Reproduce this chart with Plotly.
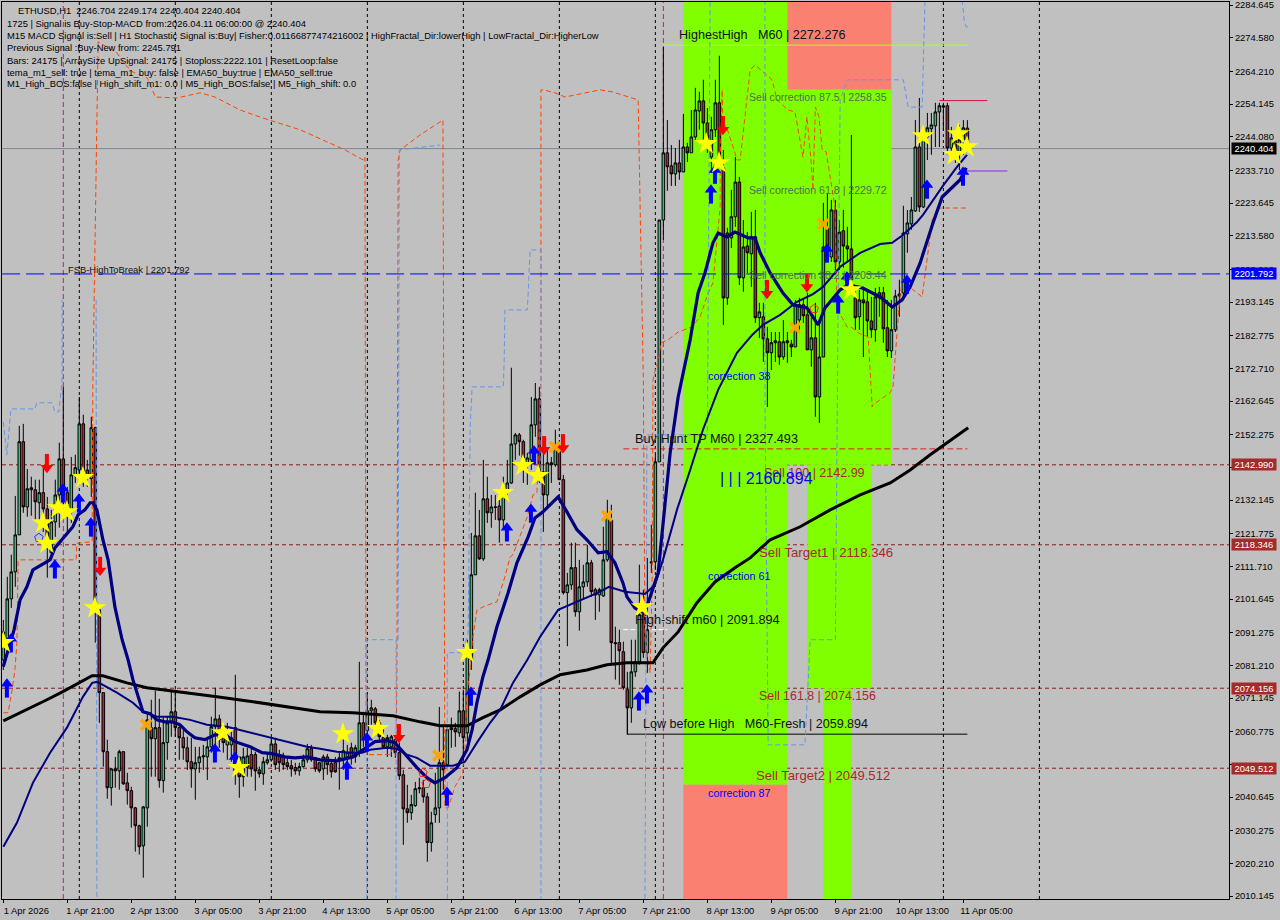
import plotly.graph_objects as go

# ---- OHLC, hourly bars (bar number = hours since first bar) ----
ohlc = """2082.9 2095.2 2079.8 2091.5
2088.2 2108.5 2086.9 2101.7
2101.7 2115.3 2098.9 2110.0
2110.0 2133.4 2105.4 2121.4
2121.4 2155.0 2121.4 2150.1
2150.1 2155.6 2128.2 2130.0
2130.0 2141.7 2127.0 2135.6
2135.9 2139.3 2127.3 2135.3
2135.3 2138.4 2126.0 2131.6
2131.3 2138.4 2125.1 2134.4
2134.4 2142.4 2122.3 2129.4
2129.4 2133.1 2108.2 2119.0
2115.9 2129.1 2115.3 2125.4
2125.4 2138.4 2120.8 2133.7
2133.7 2149.8 2123.6 2144.8
2144.8 2167.0 2128.2 2133.7
2134.4 2136.2 2122.0 2129.1
2128.5 2145.4 2125.1 2139.9
2139.6 2146.1 2137.4 2142.1
2141.4 2163.9 2138.4 2155.6
2155.6 2158.4 2136.2 2139.9
2141.4 2144.5 2136.2 2139.3
2138.7 2157.8 2133.1 2154.4
2154.4 2154.7 2088.2 2098.3
2098.3 2098.3 2063.5 2072.8
2072.8 2072.8 2050.0 2054.6
2054.6 2058.3 2040.1 2043.5
2043.5 2049.6 2038.0 2049.3
2049.3 2053.0 2043.5 2048.7
2048.7 2055.2 2042.9 2054.6
2054.6 2054.6 2044.4 2044.7
2045.0 2048.1 2038.3 2042.6
2042.6 2043.8 2031.2 2037.3
2037.3 2037.6 2023.8 2031.8
2031.8 2032.1 2022.9 2025.3
2025.6 2037.9 2015.8 2037.6
2037.3 2066.9 2031.5 2064.4
2062.0 2070.6 2046.9 2058.6
2058.6 2073.4 2046.9 2062.0
2062.0 2070.9 2043.5 2045.7
2045.7 2065.1 2042.0 2057.4
2057.4 2065.4 2052.1 2063.5
2063.5 2073.1 2059.2 2066.9
2066.9 2073.7 2059.2 2062.0
2062.0 2063.5 2052.1 2058.9
2058.9 2061.4 2052.1 2055.8
2055.8 2059.2 2049.0 2051.5
2051.5 2058.9 2043.5 2049.3
2049.3 2056.1 2039.8 2051.2
2051.2 2056.1 2048.1 2053.0
2053.0 2056.7 2049.0 2053.3
2053.0 2059.2 2045.9 2056.1
2056.1 2065.4 2054.3 2062.3
2062.3 2074.3 2056.1 2064.7
2064.7 2066.0 2055.8 2058.3
2059.5 2062.3 2054.3 2057.4
2056.7 2063.5 2052.1 2059.5
2056.7 2060.7 2051.5 2058.9
2062.0 2078.3 2044.4 2053.0
2053.0 2053.0 2040.4 2046.9
2046.9 2055.8 2043.8 2053.0
2049.8 2055.8 2046.9 2053.3
2053.7 2055.8 2046.9 2049.3
2053.7 2054.6 2042.6 2048.7
2049.0 2050.0 2046.6 2047.8
2047.8 2053.0 2044.4 2051.5
2051.2 2054.3 2050.6 2052.1
2052.1 2058.9 2051.5 2057.0
2057.0 2058.9 2049.0 2050.6
2053.7 2055.2 2048.4 2051.2
2053.0 2054.3 2049.0 2050.6
2051.2 2052.7 2049.0 2050.0
2050.3 2052.1 2046.9 2049.3
2049.7 2051.2 2047.5 2048.7
2048.7 2051.2 2047.2 2050.0
2050.0 2053.7 2049.7 2052.1
2052.1 2057.0 2051.2 2055.5
2055.5 2056.7 2051.5 2052.1
2052.7 2053.0 2048.4 2049.3
2051.2 2051.2 2048.1 2048.7
2049.3 2053.7 2045.9 2053.0
2053.0 2053.9 2047.5 2050.6
2050.9 2052.1 2046.6 2048.4
2051.2 2053.0 2048.1 2048.4
2052.7 2054.3 2042.9 2052.1
2052.1 2058.3 2049.0 2054.9
2053.0 2056.7 2050.0 2054.3
2055.8 2057.4 2050.6 2052.7
2053.0 2056.7 2051.2 2055.8
2054.3 2082.3 2053.0 2063.5
2063.5 2066.9 2056.1 2058.3
2061.1 2072.8 2057.4 2067.2
2067.2 2070.6 2062.9 2068.1
2067.8 2068.4 2059.8 2063.5
2063.5 2064.4 2057.4 2059.2
2058.9 2062.3 2055.8 2056.1
2056.1 2059.8 2053.0 2058.9
2056.1 2059.8 2053.0 2059.2
2058.3 2059.2 2052.7 2054.3
2054.3 2057.4 2045.9 2047.2
2047.5 2049.0 2025.9 2037.0
2037.0 2044.4 2032.7 2035.8
2035.8 2041.3 2033.6 2038.3
2038.0 2045.3 2037.6 2043.2
2043.5 2046.6 2041.8 2043.2
2043.5 2045.9 2038.9 2040.7
2040.7 2041.9 2020.7 2026.6
2026.6 2036.1 2023.8 2032.7
2035.2 2048.1 2032.7 2037.3
2037.3 2068.4 2032.7 2051.2
2051.2 2062.9 2042.9 2049.0
2050.6 2062.3 2049.7 2061.4
2061.4 2065.1 2055.8 2062.0
2061.7 2063.5 2056.1 2060.7
2060.4 2073.1 2059.2 2067.2
2067.2 2073.7 2052.1 2058.9
2060.4 2089.1 2057.7 2084.5
2082.9 2122.0 2079.8 2109.1
2109.1 2134.4 2109.1 2121.1
2121.1 2129.1 2113.7 2114.0
2114.0 2144.5 2113.4 2132.5
2132.5 2139.3 2125.1 2128.2
2128.2 2133.7 2123.6 2130.0
2130.0 2133.7 2126.0 2129.9
2130.3 2132.2 2119.0 2126.0
2126.0 2139.3 2123.0 2134.7
2134.7 2144.5 2133.7 2137.4
2137.4 2172.9 2137.1 2149.4
2149.4 2152.8 2144.5 2152.2
2152.2 2152.8 2145.8 2150.1
2150.1 2150.7 2137.4 2145.1
2143.6 2146.7 2136.8 2145.1
2144.5 2163.9 2141.4 2155.3
2155.3 2168.2 2151.6 2163.3
2163.3 2167.0 2137.4 2139.9
2140.8 2147.6 2122.3 2133.7
2133.7 2147.6 2130.0 2143.6
2143.6 2145.4 2137.4 2143.0
2143.0 2153.8 2142.4 2148.5
2148.5 2150.1 2138.4 2138.4
2138.4 2139.9 2103.0 2103.6
2103.6 2109.7 2087.1 2106.0
2106.0 2119.0 2104.5 2111.3
2111.3 2119.0 2096.2 2097.7
2097.7 2113.7 2091.9 2105.4
2105.4 2112.2 2101.4 2106.9
2106.9 2118.3 2105.4 2112.8
2112.8 2113.7 2102.3 2103.9
2104.5 2105.1 2095.2 2102.9
2102.9 2105.1 2097.7 2104.5
2102.6 2123.9 2102.3 2113.7
2113.7 2132.2 2113.1 2127.0
2126.0 2130.7 2081.4 2088.2
2088.2 2093.1 2076.8 2087.9
2088.2 2092.2 2075.2 2085.7
2085.4 2088.5 2073.7 2074.3
2073.7 2079.2 2059.8 2068.1
2068.1 2089.1 2063.5 2079.2
2079.2 2089.1 2077.7 2082.3
2082.3 2112.2 2081.4 2096.8
2096.8 2104.5 2083.5 2085.1
2085.1 2114.3 2078.9 2092.2
2113.1 2124.5 2109.7 2112.8
2113.1 2146.1 2110.6 2143.9
2143.9 2218.4 2143.9 2218.4
2218.4 2271.7 2212.3 2239.1
2239.1 2249.2 2227.4 2234.8
2235.1 2241.5 2228.9 2232.6
2232.6 2240.6 2228.9 2236.0
2236.0 2243.1 2230.8 2233.2
2233.2 2251.1 2233.2 2240.9
2240.9 2242.2 2236.3 2239.1
2239.1 2252.3 2239.1 2244.0
2244.0 2259.1 2243.1 2252.3
2252.0 2257.9 2246.2 2255.1
2255.1 2261.6 2243.1 2248.3
2248.3 2252.9 2239.1 2243.1
2237.8 2250.2 2232.9 2246.2
2246.2 2261.6 2244.0 2254.5
2254.5 2269.0 2234.5 2236.0
2234.5 2240.0 2186.1 2194.4
2194.4 2216.0 2192.3 2214.4
2212.9 2227.7 2209.8 2219.4
2219.4 2237.8 2216.3 2230.1
2230.1 2231.7 2198.4 2200.6
2200.6 2218.4 2196.3 2210.1
2210.4 2214.7 2202.1 2208.3
2208.0 2220.9 2197.8 2213.2
2213.2 2221.5 2186.7 2188.3
2188.3 2192.9 2182.1 2190.1
2188.6 2192.9 2174.7 2181.8
2181.8 2185.5 2160.8 2177.5
2177.5 2183.9 2172.2 2180.6
2180.6 2183.9 2174.7 2181.2
2180.9 2183.9 2173.8 2176.2
2176.2 2187.6 2175.3 2180.9
2181.2 2183.9 2174.4 2180.6
2180.2 2181.5 2176.2 2179.3
2179.3 2193.8 2179.3 2192.3
2187.6 2194.4 2184.6 2192.3
2192.3 2194.4 2186.7 2188.9
2189.2 2196.0 2178.4 2178.4
2178.4 2190.1 2173.2 2182.1
2182.1 2192.9 2157.8 2163.9
2163.9 2186.7 2155.9 2176.2
2176.2 2223.7 2176.2 2210.1
2216.0 2226.4 2205.5 2210.1
2207.0 2224.6 2205.5 2221.5
2221.5 2224.6 2203.0 2205.5
2205.5 2218.4 2203.0 2214.7
2215.1 2221.5 2203.7 2210.4
2210.4 2216.3 2205.2 2209.5
2209.5 2244.6 2198.4 2200.0
2194.4 2196.9 2184.6 2188.3
2188.6 2196.9 2184.6 2193.8
2193.8 2197.8 2176.2 2192.9
2193.2 2196.9 2182.4 2187.3
2187.3 2194.7 2182.1 2184.6
2184.6 2197.5 2180.9 2194.7
2196.0 2197.8 2188.6 2194.4
2196.0 2197.8 2180.6 2184.9
2185.2 2193.8 2176.2 2178.1
2178.1 2193.8 2175.9 2184.6
2184.6 2196.9 2183.9 2195.0
2195.0 2200.0 2188.6 2195.6
2195.9 2222.8 2194.7 2214.4
2214.1 2221.5 2208.3 2217.5
2217.2 2225.5 2215.4 2221.5
2221.2 2249.2 2220.9 2240.9
2240.9 2256.0 2220.9 2222.4
2222.4 2246.2 2222.1 2244.0
2244.0 2251.4 2236.9 2246.8
2246.5 2251.4 2238.5 2247.7
2247.4 2254.5 2240.9 2251.7
2251.7 2254.5 2240.9 2253.6
2253.6 2254.5 2246.2 2253.2
2253.6 2254.5 2238.5 2240.6
2240.6 2247.1 2236.9 2243.7
2242.8 2244.6 2236.0 2239.4
2238.5 2247.7 2233.8 2243.1
2243.1 2249.2 2238.5 2246.8
2246.704 2249.174 2240.404 2240.404"""
rows = [list(map(float, r.split())) for r in ohlc.splitlines()]
open_ = [r[0] for r in rows]
high = [r[1] for r in rows]
low = [r[2] for r in rows]
close = [r[3] for r in rows]
bars = list(range(len(rows)))

# ---- moving averages ----
fast_x = [0,1.2,2.7,4.2,5.9,7.4,10.2,11.7,12.9,14.2,15.9,17.4,18.7,20.4,21.7,22.4,23.4,24.9,26.2,27.9,29.7,31.2,32.4,33.4,34.9,36.7,38.4,40.4,42.2,44.2,45.9,47.9,50.4,52.9,55.4,57.9,61.7,64.7,67.2,70.4,72.9,75.9,79.2,83.4,87.4,89.9,92.9,95.9,97.9,99.9,103.4,105.9,107.9,110.4,113.4,115.9,117.2,118.4,119.9,121.2,123.4,126.2,128.4,131.2,132.9,134.9,138.7,140.9,143.4,145.9,148.7,150.9,152.9,154.9,155.9,157.9,159.7,161.2,163.7,164.2,166.7,168.7,171.7,173.7,175.4,177.4,178.7,180.9,182.9,186.2,187.9,189.2,191.7,194.9,197.4,200.9,203.7,205.4,209.2,211.2,214.7,219.2,222.2,224.7,226.7,229.2,232.4,234.7,239.2,240.7]
fast_y = [2080.8,2086.0,2092.2,2101.4,2105.4,2110.6,2112.8,2113.7,2117.4,2119.3,2122.0,2123.9,2127.6,2129.1,2131.3,2131.3,2129.1,2119.9,2113.7,2099.2,2089.1,2082.9,2076.8,2073.1,2066.9,2066.3,2064.4,2063.8,2063.8,2062.9,2060.7,2058.9,2058.3,2059.8,2059.8,2057.7,2056.1,2054.3,2054.0,2053.0,2052.7,2053.0,2052.1,2051.8,2053.0,2055.2,2057.7,2058.0,2057.4,2054.6,2049.7,2046.6,2045.0,2046.6,2049.7,2055.2,2061.4,2069.7,2077.7,2082.9,2093.1,2103.6,2112.8,2120.8,2126.6,2128.5,2133.1,2128.5,2123.0,2119.9,2115.9,2116.2,2112.8,2106.6,2102.3,2098.9,2097.7,2100.5,2109.7,2115.9,2146.7,2163.9,2181.5,2196.0,2202.1,2211.4,2214.4,2213.2,2214.7,2212.9,2212.9,2208.3,2202.1,2195.9,2192.3,2191.3,2186.1,2191.3,2196.9,2198.4,2197.5,2194.7,2191.6,2193.8,2197.8,2205.2,2217.5,2225.5,2230.8,2234.5]

mid_x = [0,3.4,7.4,11.7,15.9,19.9,22.2,23.4,24.9,28.4,32.4,34.9,38.4,42.4,46.7,50.9,55.9,60.9,65.9,70.9,75.9,79.2,83.4,87.4,89.7,91.7,95.9,98.4,100.9,103.4,106.7,112.4,115.4,118.4,121.7,124.2,127.4,131,134.2,138.7,143.4,148.7,151.4,155.4,160.4,162.9,164.9,168.4,171.7,174.9,178.7,183.4,187.2,189.9,194.2,198.4,202.4,204.9,209.2,214.2,219.2,222.2,224.9,228.4,229.9,234.7,238.4,240.9]
mid_y = [2025.3,2032.7,2045.0,2054.3,2062.0,2071.5,2075.8,2076.1,2075.2,2072.8,2069.7,2066.9,2065.4,2065.4,2064.4,2062.9,2062.3,2060.7,2059.2,2057.7,2056.1,2055.5,2054.6,2054.3,2054.3,2055.2,2055.8,2055.5,2053.7,2052.7,2050.3,2050.3,2051.5,2057.4,2063.5,2067.5,2075.8,2082.9,2090.0,2098.3,2100.8,2103.6,2105.4,2103.9,2103.2,2106.0,2113.7,2129.1,2141.4,2153.8,2166.1,2177.5,2183.0,2186.1,2189.2,2193.2,2195.6,2197.8,2204.0,2208.3,2211.0,2211.4,2213.8,2217.8,2220.0,2228.6,2234.8,2238.5]

slow_x = [0,5.9,10.9,14.9,19.2,22.2,24.9,30.9,35.9,45.9,53.4,62.4,70.9,79.2,87.4,97.4,104.2,109.2,115.9,119.9,124.2,129.2,134.2,139.2,145.9,150.9,155.9,162.4,164.9,168.7,173.4,177.9,182.9,186.7,191.7,199.2,206.7,214.2,221.7,226.7,231.7,236.7,241.2]
slow_y = [2064.1,2067.5,2070.6,2073.1,2076.1,2078.0,2078.0,2075.8,2074.3,2072.8,2071.5,2070.0,2068.4,2066.9,2066.6,2065.7,2063.8,2062.6,2062.6,2065.1,2067.5,2071.5,2075.2,2078.3,2079.8,2081.4,2082.0,2082.0,2086.6,2091.5,2100.5,2106.9,2111.3,2114.3,2119.9,2123.9,2129.1,2133.7,2137.4,2141.4,2146.1,2150.4,2154.4]

# ---- dashed fractal step lines ----
low_fr_x = [0,1.2,2.2,2.9,3.4,3.7,4.2,18.2,18.4,22.2,22.4,23.4,23.7,28.4,30,32.4,36,38,43.4,49.2,52.9,59.2,64.7,74.2,85.4,90,90.4,90.7,90.9,96.7,98.2,98.4,98.7,99.2,104.2,109.9,110.4,110.4,111.2,112.9,114.9,115.4,115.9,116.7,117.2,118.4,119.9,123.4,125.4,126.7,127.4,131,132.4,133.4,134.4,134.4,135,137.9,140.4,149.2,152.2,158.7,160,160.4,160.4,161.7,162.2,162.4,163.9,164.4,166.2,168.7,172.2,174.2,176.2,177.4,179.2,179.2,179.7,179.9,180.7,182.9,183.4,184.2,186.7,187.9,192.2,193.4,196.2,197.9,199.9,200.9,201.9,202.4,203,203.9,204.7,205.7,207.9,208.4,208.9,210.9,212.2,213.7,216.2,217.2,217.4,221.7,222.4,223.9,224.7,227.4,229.7,232.2,232.9,233.4,235.4,241]
low_fr_y = [2066.6,2066.6,2073.7,2079.8,2088.2,2113.4,2113.7,2113.7,2118.8,2119.3,2169.2,2255.4,2273.3,2269.9,2266.8,2264.0,2262.2,2256.3,2256.0,2257.6,2256.3,2252.3,2249.9,2246.2,2240.0,2236.9,2237.8,2055.2,2053.7,2053.7,2058.3,2077.7,2236.9,2240.0,2244.6,2249.2,2062.9,2037.3,2037.3,2043.8,2048.1,2055.2,2072.8,2079.8,2088.2,2098.3,2099.2,2100.8,2108.5,2114.6,2115.3,2127.0,2133.7,2134.4,2169.2,2258.5,2258.5,2257.6,2256.3,2258.5,2257.9,2255.4,2169.2,2109.7,2089.1,2078.9,2107.6,2169.2,2176.2,2180.6,2181.5,2183.9,2185.5,2188.6,2196.0,2199.0,2222.4,2236.0,2258.5,2247.4,2247.4,2239.1,2236.9,2236.9,2264.6,2266.2,2261.6,2255.4,2252.3,2251.7,2237.8,2250.2,2236.9,2227.7,2253.2,2250.2,2240.0,2239.4,2222.4,2190.7,2190.1,2185.5,2185.2,2183.6,2182.4,2160.8,2161.5,2165.2,2167.0,2191.6,2199.9,2196.9,2194.7,2218.4,2220.0,2222.1,2222.1,2222.1]

high_fr_x = [0,0.9,1.9,7.9,8.4,12.2,12.9,13.9,14.7,14.7,None,23.2,23.4,None,90.9,90.9,98.2,98.2,None,98.7,99,109.2,None,111,111,114.9,116.2,116.7,117.2,125,125.2,125.4,131,131.7,134.4,134.4,None,160.4,160.9,176,176.7,None,190.4,190.4,191.2,200.4,201.7,208,208.7,209.2,211,225,226.2,229.7,230.4,None,239.7,240.2,240.7,241.2]
high_fr_y = [2156.2,2146.1,2160.2,2160.2,2162.1,2162.1,2159.3,2159.3,2169.2,2193.8,None,2193.8,2009.3,None,2009.3,2089.1,2089.1,2009.3,None,2089.1,2240.0,2241.5,None,2009.3,2085.1,2085.1,2091.2,2154.7,2167.0,2167.0,2174.7,2190.7,2190.7,2209.2,2209.2,2009.3,None,2009.3,2152.2,2152.2,2286.2,None,2286.2,2163.0,2056.7,2056.7,2089.1,2089.1,2193.8,2255.4,2261.6,2261.6,2253.2,2253.2,2286.2,None,2286.2,2280.0,2277.9,2277.9]

# ---- signals ----
star_x = [0,9.9,10.9,13.7,15.9,19.9,22.9,54.9,58.9,84.9,93.7,115.9,124.9,129.9,133.7,159.7,175.7,178.9,211.9,229.9,238.7,240.9,237.7]
star_y = [2088.2,2125.1,2118.8,2129.7,2128.5,2139.0,2098.9,2060.4,2049.7,2060.1,2061.7,2085.1,2134.4,2142.7,2139.6,2099.2,2241.9,2236.0,2196.9,2244.3,2244.9,2240.9,2238.5]
up_x = [0.9,1.9,14.9,18.9,21.9,12.9,52.9,57.9,85.9,90.9,110.9,116.9,125.9,131.9,132.7,158.9,160.9,176.9,177.9,205.9,208.7,210.9,225.9,230.9,239.9]
up_y = [2074.6,2088.5,2134.7,2131.6,2124.2,2111.3,2054.6,2052.1,2049.3,2058.0,2041.3,2072.1,2122.7,2128.5,2146.4,2070.6,2072.8,2226.8,2232.9,2208.6,2192.9,2200.0,2199.0,2228.3,2232.3]
down_x = [10.9,24.2,98.9,135.2,139.9,179.9,190.9,200.9]
down_y = [2143.0,2111.3,2059.8,2148.5,2149.1,2247.1,2196.6,2198.7]
cross_x = [35.7,108.7,137.9,150.9,197.9,204.9]
cross_y = [2062.9,2053.4,2148.5,2127.3,2185.2,2217.2]
hollow_red_x = [104.9,105.7,202.7]
hollow_red_y = [2048.1,2044.7,2191.0]
hollow_blue_x = [8.9]
hollow_blue_y = [2120.5]

# ---- levels ----
fib_levels = [2142.99, 2118.346, 2074.156, 2049.512]
fsb_level = 2201.792
last_price = 2240.404
grid_bars = [19,43,67,91,115,139,163,187,211,235,259]
signal_bars = [15,165,187,211]
price_ticks = [2284.645,2274.580,2264.210,2254.145,2244.080,2233.710,2223.645,2213.580,2203.210,2193.145,2182.775,2172.710,2162.645,2152.275,2142.210,2132.145,2121.775,2111.710,2101.645,2091.275,2081.210,2071.145,2060.775,2050.710,2040.645,2030.275,2020.210,2010.145]
price_tick_labels = ["2284.645","2274.580","2264.210","2254.145","2244.080","2233.710","2223.645","2213.580","2203.210","2193.145","2182.775","2172.710","2162.645","2152.275","","2132.145","2121.775","2111.710","2101.645","2091.275","2081.210","2071.145","2060.775","","2040.645","2030.275","2020.210","2010.145"]
time_ticks = [0,16,32,48,64,80,96,112,128,144,160,176,192,208,224,240]
time_labels = ["1 Apr 2026","1 Apr 21:00","2 Apr 13:00","3 Apr 05:00","3 Apr 21:00","4 Apr 13:00","5 Apr 05:00","5 Apr 21:00","6 Apr 13:00","7 Apr 05:00","7 Apr 21:00","8 Apr 13:00","9 Apr 05:00","9 Apr 21:00","10 Apr 13:00","11 Apr 05:00"]

# zones: bar start, bar end, price low, price high, colour
LIME, SALMON = "#7FFF00", "#FA8072"
zones = [
    (170,196,2044.4,2286,LIME),(170,196,2009,2044.4,SALMON),
    (196,222,2258.5,2286,SALMON),(196,222,2143.0,2258.5,LIME),
    (201,217,2074.156,2143.0,LIME),(205,212,2009,2074.156,LIME),
]
segments = [  # bar start, bar end, price, colour, dash
    (165,241,2272.276,"#ADFF2F","solid"),
    (155,241,2147.9,"#DC2020","6px,3px"),
    (156,241,2060.0,"#000000","solid"),
    (155,166,2092.2,"#FFFFFF","5px,2px"),
    (234,246,2255.2,"#DC143C","solid"),
    (239,251,2233.5,"#8A2BE2","solid"),
]
info_lines = [
    (3.2,2282.8,"ETHUSD,H1  2246.704 2249.174 2240.404 2240.404"),
    (0.4,2278.8,"1725 | Signal is Buy-Stop-MACD from:2026.04.11 06:00:00 @ 2240.404"),
    (0.4,2275.1,"M15 MACD Signal is:Sell | H1 Stochastic Signal is:Buy| Fisher:0.01166877474216002 | HighFractal_Dir:lowerHigh | LowFractal_Dir:HigherLow"),
    (0.4,2271.4,"Previous Signal :Buy-New from: 2245.791"),
    (0.4,2267.7,"Bars: 24175 | ArraySize UpSignal: 24175 | Stoploss:2222.101 | ResetLoop:false"),
    (0.4,2264.0,"tema_m1_sell: true | tema_m1_buy: false | EMA50_buy:true | EMA50_sell:true"),
    (0.4,2260.5,"M1_High_BOS:false | High_shift_m1: 0.0 | M5_High_BOS:false | M5_High_shift: 0.0"),
]
FIB = "#A52A2A"; GREY = "#4F6F4F"
chart_labels = [
    (168.4,2275.4,"HighestHigh   M60 | 2272.276",12.6,"#101020"),
    (185.9,2256.3,"Sell correction 87.5 | 2258.35",10.6,GREY),
    (185.9,2227.7,"Sell correction 61.8 | 2229.72",10.6,GREY),
    (185.9,2201.5,"Sell correction 38.2 | 2203.44",10.6,GREY),
    (175.7,2170.4,"correction 38",10.8,"#0000FF"),
    (175.7,2108.8,"correction 61",10.8,"#0000FF"),
    (175.7,2042.0,"correction 87",10.8,"#0000FF"),
    (157.4,2151.0,"Buy Hunt TP M60 | 2327.493",12.7,"#101010"),
    (189.7,2140.5,"Sell 100 | 2142.99",12.5,FIB),
    (178.7,2138.7,"| | | 2160.894",16,"#0000FF"),
    (188.4,2115.9,"Sell Target1 | 2118.346",13.2,FIB),
    (157.4,2095.2,"High-shift m60 | 2091.894",12.65,"#101010"),
    (188.4,2071.8,"Sell 161.8 | 2074.156",12.4,FIB),
    (159.5,2063.2,"Low before High   M60-Fresh | 2059.894",12.55,"#101010"),
    (187.7,2047.2,"Sell Target2 | 2049.512",13.1,FIB),
    (15.7,2203.3,"FSB-HighToBreak | 2201.792",9.4,"#101010"),
]
axis_boxes = [(2240.404,"#000000"),(2201.792,"#0000FF"),(2142.99,"#A52A2A"),(2118.346,"#A52A2A"),(2074.156,"#A52A2A"),(2049.512,"#A52A2A")]

FONT = "Liberation Sans"
fig = go.Figure()

# zones and guide lines under everything
shapes = []
for x0,x1,y0,y1,c in zones:
    shapes.append(dict(type="rect",xref="x",yref="y",x0=x0,x1=x1,y0=y0,y1=y1,fillcolor=c,line_width=0,layer="below"))
for b in grid_bars:
    shapes.append(dict(type="line",xref="x",yref="paper",x0=b,x1=b,y0=0,y1=1,line=dict(color="#000000",width=1,dash="3px,3px"),layer="below"))
for b in signal_bars:
    shapes.append(dict(type="line",xref="x",yref="paper",x0=b,x1=b,y0=0,y1=1,line=dict(color="#B0208A",width=1,dash="5px,3px"),layer="below"))
for lv in fib_levels:
    shapes.append(dict(type="line",xref="paper",yref="y",x0=0,x1=1,y0=lv,y1=lv,line=dict(color="#8B1A1A",width=1,dash="4px,3px"),layer="below"))
shapes.append(dict(type="line",xref="paper",yref="y",x0=0,x1=1,y0=last_price,y1=last_price,line=dict(color="#778899",width=1),layer="below"))
for x0,x1,y,c,d in segments:
    shapes.append(dict(type="line",xref="x",yref="y",x0=x0,x1=x1,y0=y,y1=y,line=dict(color=c,width=1,dash=d),layer="below"))
shapes.append(dict(type="line",xref="x",yref="y",x0=156,x1=156,y0=2060.0,y1=2068.1,line=dict(color="#000000",width=1),layer="below"))

fig.add_trace(go.Scatter(x=low_fr_x,y=low_fr_y,mode="lines",line=dict(color="#FF4500",width=1,dash="5px,3px"),hoverinfo="skip"))
fig.add_trace(go.Scatter(x=high_fr_x,y=high_fr_y,mode="lines",connectgaps=False,line=dict(color="#6495ED",width=1,dash="5px,3px"),hoverinfo="skip"))
fig.add_trace(go.Candlestick(x=bars,open=open_,high=high,low=low,close=close,whiskerwidth=0,
    increasing=dict(line=dict(color="#000000",width=1),fillcolor="#33C07A"),
    decreasing=dict(line=dict(color="#000000",width=1),fillcolor="#B0243C")))
fig.add_trace(go.Scatter(x=[-0.3,306.4],y=[fsb_level,fsb_level],mode="lines",line=dict(color="#0000FF",width=1,dash="18px,6px"),hoverinfo="skip"))
fig.add_trace(go.Scatter(x=slow_x,y=slow_y,mode="lines",line=dict(color="#000000",width=3),hoverinfo="skip"))
fig.add_trace(go.Scatter(x=mid_x,y=mid_y,mode="lines",line=dict(color="#000080",width=2),hoverinfo="skip"))
fig.add_trace(go.Scatter(x=fast_x,y=fast_y,mode="lines",line=dict(color="#000080",width=3.2),hoverinfo="skip"))

fig.add_trace(go.Scatter(x=hollow_red_x,y=hollow_red_y,mode="markers",marker=dict(symbol="pentagon-open",size=9,color="#FF2020",line=dict(width=1))))
fig.add_trace(go.Scatter(x=hollow_blue_x,y=hollow_blue_y,mode="markers",marker=dict(symbol="pentagon-open",size=9,color="#3030FF",line=dict(width=1))))
# blue arrow = shaft + head
fig.add_trace(go.Scatter(x=up_x,y=[v-1.4 for v in up_y],mode="markers",marker=dict(symbol="line-ns-open",size=9,color="#0000FF",line=dict(width=4))))
fig.add_trace(go.Scatter(x=up_x,y=[v+0.9 for v in up_y],mode="markers",marker=dict(symbol="triangle-up",size=11,color="#0000FF",line=dict(width=0))))
fig.add_trace(go.Scatter(x=down_x,y=[v+1.4 for v in down_y],mode="markers",marker=dict(symbol="line-ns-open",size=9,color="#FF0000",line=dict(width=4))))
fig.add_trace(go.Scatter(x=down_x,y=[v-0.9 for v in down_y],mode="markers",marker=dict(symbol="triangle-down",size=11,color="#FF0000",line=dict(width=0))))
fig.add_trace(go.Scatter(x=cross_x,y=cross_y,mode="markers",marker=dict(symbol="x-thin-open",size=10,color="#FFA500",line=dict(width=3.5))))
fig.add_trace(go.Scatter(x=star_x,y=star_y,mode="markers",marker=dict(symbol="star",size=17,color="#FFFF00",line=dict(width=0))))

annos = []
for x,y,t in info_lines:
    annos.append(dict(x=x,y=y,xref="x",yref="y",text=t,showarrow=False,xanchor="left",yanchor="middle",font=dict(family=FONT,size=9.4,color="#000000")))
for x,y,t,s,c in chart_labels:
    annos.append(dict(x=x,y=y,xref="x",yref="y",text=t,showarrow=False,xanchor="left",yanchor="middle",font=dict(family=FONT,size=s,color=c)))
for lv,c in axis_boxes:
    annos.append(dict(x=1,y=lv,xref="paper",yref="y",text=f"{lv:.3f}",showarrow=False,xanchor="left",yanchor="middle",xshift=2,
        width=44,height=11,bgcolor=c,borderpad=0,font=dict(family=FONT,size=9.4,color="#FFFFFF")))

fig.update_layout(
    width=1280,height=920,margin=dict(l=2,r=51,t=2,b=21),paper_bgcolor="#C0C0C0",plot_bgcolor="#C0C0C0",
    showlegend=False,shapes=shapes,annotations=annos,hovermode=False,boxgap=0.08,
    font=dict(family=FONT,size=9.4,color="#000000"),
    xaxis=dict(range=[-0.325,306.4],rangeslider=dict(visible=False),showgrid=False,zeroline=False,tickmode="array",automargin=False,
               tickvals=time_ticks,ticktext=time_labels,ticks="outside",ticklen=3,tickcolor="#000000",ticklabelshift=23,
               tickfont=dict(family=FONT,size=9.4),showline=True,linecolor="#000000",linewidth=1,mirror=True),
    yaxis=dict(range=[2009.22,2285.57],side="right",showgrid=False,zeroline=False,tickmode="array",automargin=False,
               tickvals=price_ticks,ticktext=price_tick_labels,ticklabeloverflow="allow",
               ticks="outside",ticklen=3,tickcolor="#000000",tickfont=dict(family=FONT,size=9.4),
               showline=True,linecolor="#000000",linewidth=1,mirror=True),
)
fig.write_html("out.html",config={"displayModeBar":False},post_script="document.body.style.margin='0';document.body.style.overflow='hidden';")
